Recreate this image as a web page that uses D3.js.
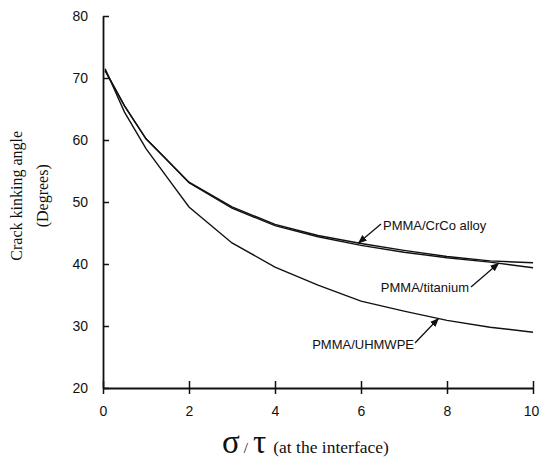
<!DOCTYPE html>
<html>
<head>
<meta charset="utf-8">
<script src="https://cdn.jsdelivr.net/npm/d3@7"></script>
<style>
  body { margin: 0; background: #fff; }
  svg text { fill: #111; }
</style>
</head>
<body>
<script>
// data
const xs = [0.05, 0.5, 1, 1.5, 2, 3, 4, 5, 6, 7, 8, 9, 10];
const crco = [71.2, 65.5, 60.2, 56.7, 53.2, 49.2, 46.4, 44.6, 43.3, 42.2, 41.2, 40.5, 40.2];
const titanium = [71.2, 65.5, 60.2, 56.7, 53.1, 49.0, 46.2, 44.4, 43.0, 41.9, 41.0, 40.3, 39.4];
const uhmwpe = [71.5, 64.5, 58.6, 53.9, 49.2, 43.4, 39.5, 36.6, 34.0, 32.4, 30.9, 29.8, 29.0];
const xTicks = [0, 2, 4, 6, 8, 10];
const yTicks = [20, 30, 40, 50, 60, 70, 80];

const W = 539, H = 466;
const margin = {top: 16, right: 6, bottom: 78, left: 103};

const svg = d3.select("body").append("svg")
    .attr("width", W)
    .attr("height", H);

const x = d3.scaleLinear().domain([0, 10]).range([margin.left, W - margin.right]);
const y = d3.scaleLinear().domain([20, 80]).range([H - margin.bottom, margin.top]);

const line = d3.line()
    .x((d, i) => x(xs[i]))
    .y(d => y(d));

// axes
const xAxis = svg.append("g")
    .attr("transform", `translate(0,${y(20)})`)
    .call(d3.axisBottom(x).tickValues(xTicks).tickSize(6).tickSizeOuter(0).tickPadding(12));
xAxis.selectAll(".tick line").attr("y1", -7).attr("y2", 6);
// last label sits against the edge in the original
xAxis.selectAll(".tick text").filter(d => d === 10).attr("dx", -2);

const yAxis = svg.append("g")
    .attr("transform", `translate(${x(0)},0)`)
    .call(d3.axisLeft(y).tickValues(yTicks).tickSize(6).tickSizeOuter(0).tickPadding(9));
yAxis.selectAll(".tick line").attr("x2", 6);

svg.selectAll(".domain").attr("stroke", "#111").attr("stroke-width", 1.8);
svg.selectAll(".tick line").attr("stroke", "#111").attr("stroke-width", 1.5);
svg.selectAll(".tick text")
    .attr("font-family", "Liberation Sans, Arial, sans-serif")
    .attr("font-size", 14)
    .attr("fill", "#111");

// curves
[crco, titanium, uhmwpe].forEach(s => {
  svg.append("path")
      .datum(s)
      .attr("d", line)
      .attr("fill", "none")
      .attr("stroke", "#111")
      .attr("stroke-width", 1.4);
});

// labels with arrows
svg.append("defs").append("marker")
    .attr("id", "arr")
    .attr("viewBox", "0 0 10 10")
    .attr("refX", 9).attr("refY", 5)
    .attr("markerWidth", 7).attr("markerHeight", 7)
    .attr("orient", "auto")
  .append("path")
    .attr("d", "M0,1 L10,5 L0,9 z")
    .attr("fill", "#111");

const notes = [
  {text: "PMMA/CrCo alloy", tx: 383, ty: 230, anchor: "start", x1: 381, y1: 224, px: 5.94, s: crco},
  {text: "PMMA/titanium", tx: 469, ty: 292, anchor: "end", x1: 471, y1: 287, px: 9.2, s: titanium},
  {text: "PMMA/UHMWPE", tx: 414, ty: 349, anchor: "end", x1: 415, y1: 343, px: 7.8, s: uhmwpe}
];

notes.forEach(n => {
  const yv = d3.scaleLinear().domain(xs).range(n.s)(n.px);
  svg.append("line")
      .attr("x1", n.x1).attr("y1", n.y1)
      .attr("x2", x(n.px)).attr("y2", y(yv))
      .attr("stroke", "#111").attr("stroke-width", 1.3)
      .attr("marker-end", "url(#arr)");
  svg.append("text")
      .attr("x", n.tx).attr("y", n.ty)
      .attr("text-anchor", n.anchor)
      .attr("font-family", "Liberation Sans, Arial, sans-serif")
      .attr("font-size", 13)
      .text(n.text);
});

// y axis title
const yt = svg.append("text")
    .attr("transform", `translate(22,${y(51)}) rotate(-90)`)
    .attr("text-anchor", "middle")
    .attr("font-family", "Liberation Serif, Times New Roman, serif")
    .attr("font-size", 16);
yt.append("tspan").attr("x", 0).attr("dy", 0).text("Crack kinking angle");
yt.append("tspan").attr("x", 0).attr("dy", 26).text("(Degrees)");

// x axis title
const xt = svg.append("text")
    .attr("x", 222).attr("y", 453)
    .attr("font-family", "Liberation Serif, Times New Roman, serif");
xt.append("tspan").attr("font-size", 33).text("σ");
xt.append("tspan").attr("font-size", 15).attr("dx", 4).text("/");
xt.append("tspan").attr("font-size", 33).attr("dx", 5).text("τ");
xt.append("tspan").attr("font-size", 17.5).attr("dx", 7).text("(at the interface)");
</script>
</body>
</html>
